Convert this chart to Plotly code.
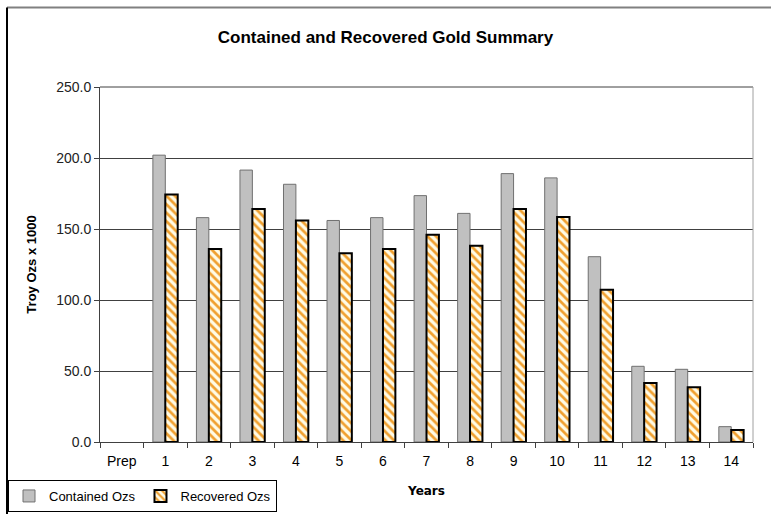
import plotly.graph_objects as go

# Gold production by year (thousand troy ounces)
years = ["Prep", "1", "2", "3", "4", "5", "6", "7", "8", "9", "10", "11", "12", "13", "14"]
contained_ozs = [None, 202.0, 158.0, 191.5, 181.5, 156.0, 158.0, 173.5, 161.0, 189.0, 186.0, 130.5, 53.3, 51.2, 10.8]
recovered_ozs = [None, 174.3, 136.0, 164.0, 156.0, 133.0, 136.0, 146.0, 138.2, 164.0, 158.5, 107.3, 41.5, 38.5, 8.5]
y_ticks = [0, 50, 100, 150, 200, 250]

W, H = 771, 514
L, R, T, B = 100, 18, 87, 72
PW, PH = W - L - R, H - T - B

fig = go.Figure()
fig.add_trace(go.Bar(
    x=years, y=contained_ozs, name="Contained Ozs",
    marker=dict(color="#C0C0C0", line=dict(color="#707070", width=1)),
))
fig.add_trace(go.Bar(
    x=years, y=recovered_ozs, name="Recovered Ozs",
    marker=dict(
        color="#FFFBE6",
        line=dict(color="#000000", width=2),
        pattern=dict(shape="\\", fgcolor="#F0A030", bgcolor="#FFFBE6",
                     size=6, solidity=0.45, fillmode="replace"),
    ),
))

font_main = "Liberation Sans, Arial, sans-serif"

fig.update_layout(
    width=W, height=H,
    margin=dict(l=L, r=R, t=T, b=B, autoexpand=False),
    paper_bgcolor="white", plot_bgcolor="white",
    barmode="group", bargap=0.43, bargroupgap=0.0,
    showlegend=True,
    title=dict(text="<b>Contained and Recovered Gold Summary</b>",
               x=0.5, xanchor="center", xref="container", y=1 - 37 / H, yanchor="middle",
               font=dict(family=font_main, size=17, color="black")),
    font=dict(family=font_main, size=14, color="black"),
    legend=dict(
        orientation="h", x=(8 - L) / PW, y=(442 - 480) / PH,
        xanchor="left", yanchor="top",
        bordercolor="black", borderwidth=1, bgcolor="white",
        font=dict(family=font_main, size=13, color="black"),
        itemwidth=30, tracegroupgap=0,
    ),
    xaxis=dict(
        categoryorder="array", categoryarray=years,
        showline=True, linecolor="#404040", linewidth=1,
        ticks="outside", tickson="boundaries", ticklen=5, tickcolor="#404040",
        ticklabelstandoff=6,
        tickfont=dict(family=font_main, size=14, color="black"),
        title=dict(text="<b>Years</b>", font=dict(family="DejaVu Sans, sans-serif", size=12), standoff=18),
        showgrid=False, mirror=False,
    ),
    yaxis=dict(
        range=[0, 250], tickvals=y_ticks, tickformat=".1f",
        showline=True, linecolor="#404040", linewidth=1,
        ticks="outside", ticklen=5, tickcolor="#404040",
        tickfont=dict(family=font_main, size=14, color="#222222"),
        showgrid=True, gridcolor="#404040", gridwidth=1,
        zeroline=False,
        title=dict(text="<b>Troy Ozs x 1000</b>", font=dict(family=font_main, size=13), standoff=16),
    ),
)

# plot-area top and right borders
fig.add_shape(type="line", xref="paper", yref="paper", x0=0, x1=1, y0=1, y1=1,
              line=dict(color="#404040", width=1))
fig.add_shape(type="line", xref="paper", yref="paper", x0=1, x1=1, y0=0, y1=1,
              line=dict(color="#A0A0A0", width=1))
# outer chart frame
frame_left = (7 - L) / PW
frame_top = (H - B - 7.5) / PH
fig.add_shape(type="line", xref="paper", yref="paper", x0=frame_left, x1=(W + 5 - L) / PW,
              y0=frame_top, y1=frame_top, line=dict(color="#808080", width=2))
fig.add_shape(type="line", xref="paper", yref="paper", x0=frame_left, x1=frame_left,
              y0=frame_top, y1=-B / PH - 0.05, line=dict(color="black", width=2))

fig.write_html("out.html")
